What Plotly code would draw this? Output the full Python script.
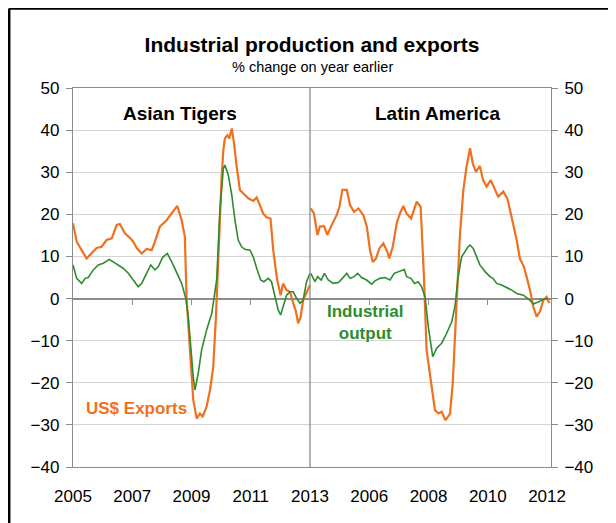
import plotly.graph_objects as go

# ---------------- data (months since start of each panel's axis; % y/y) ----------------
# Asian Tigers panel occupies months 0-96, Latin America panel months 96-~194
asia_exp_m = [0, 1.5, 3.5, 5.5, 7.6, 9.6, 11.6, 13.6, 15.7, 17.7, 19, 21, 23.1, 24.4, 25.8, 27.8, 29.8,
              31.9, 33.2, 35.2, 37.9, 40, 42.2, 44, 45.3, 46, 47.4, 48.7, 50.1, 51.4, 52.5, 54.1, 55.5,
              56.8, 57.9, 58.4, 59.2, 60.2, 60.9, 61.5, 62.5, 63.3, 64.3, 65.2, 66.3, 67.6, 68.9, 71,
              73, 74.4, 75.7, 77, 78.4, 80, 81.1, 82.7, 84.1, 85.1, 86.5, 87.9, 89.2, 90.3, 91.2, 92.2,
              93.2, 94.6, 96]
asia_exp_v = [17.9, 13.5, 11.5, 9.5, 10.8, 12, 12.3, 13.9, 14.3, 17.5, 17.7, 15.5, 14.4, 13.5, 12, 10.7, 11.8,
              11.5, 13.5, 17.1, 18.6, 20.2, 22, 18.6, 14.7, 0, -12.2, -24, -28.5, -27.3, -28, -25.7, -21.7,
              -16.2, -4.3, 3.6, 12, 28.9, 35.3, 38, 38.8, 38, 40.4, 36.9, 31.3, 25.8, 25, 23.8,
              23.2, 24, 22.2, 20.2, 19.3, 19, 11.5, 4.4, 0.8, 3.6, 2, 1.6, -1.1, -3.1, -5.9, -4.3,
              -0.4, 1.6, 3.2]

asia_ind_m = [0, 1.5, 3.5, 4.9, 6.2, 8.2, 10.2, 12.3, 14.7, 16.3, 18.3, 20.3, 22.4, 24.4, 26.4, 27.8, 29.5,
              31.5, 33.2, 34.6, 36.3, 38.2, 40, 42, 44, 45.7, 46.7, 48.7, 49.4, 50.7, 52.1, 54.1, 56.2,
              58.2, 59.5, 60.9, 61.5, 62.9, 64.3, 65.6, 66.9, 68.3, 69.6, 71.7, 73, 74.4, 76, 77.3, 79.1,
              80.4, 81.8, 83.1, 84.1, 85.1, 86.5, 87.9, 89.2, 90.6, 91.9, 93.2, 94.6, 96]
asia_ind_v = [8, 4.8, 3.6, 4.8, 5, 6.8, 8, 8.4, 9.3, 8.7, 8, 7.2, 6, 4.4, 2.8, 3.6, 5.6,
              8, 6.8, 7.6, 9.8, 10.7, 8.7, 6, 3.6, 0, -4.3, -18.6, -21.7, -17.8, -12.2, -7.5, -3.5,
              4.5, 21, 30.9, 31.7, 29.3, 24.6, 18.6, 13.9, 12.3, 11.7, 11.5, 9.9, 7.2, 4.4, 4, 4.8,
              4, 0.4, -2.7, -3.9, -1.9, 0.8, 1.6, 1.6, 0, -1.1, -0.4, 4, 6]

latam_exp_m = [96.3, 97.6, 99, 100, 101.7, 103, 104.8, 106.8, 107.9, 109.1, 110.9, 112.2, 113.8, 115.6,
               117.6, 119, 120.3, 121.4, 122.7, 124.1, 125.7, 127.3, 128.1, 129.5, 131.1, 132.4, 133.8,
               135.1, 136.9, 137.8, 139.2, 140.8, 142.2, 143.2, 145.3, 146.6, 148, 149.3, 150.9, 152.7,
               153.8, 154.7, 155.7, 156.7, 158.1, 159.4, 160.8, 161.9, 163.2, 164.8, 166.1, 167.5,
               169.2, 170.9, 172.2, 174.3, 175.9, 177, 178.3, 179.7, 181, 182.6, 183.7, 185.1, 186.4,
               187.8, 189.1, 190.5, 191.8, 192.9]
latam_exp_v = [21.4, 20.2, 15.1, 17.1, 17.2, 15.1, 17.5, 19.8, 21.8, 25.8, 25.8, 22.2, 20.6, 21.4,
               19.8, 17.1, 11.5, 8.7, 9.5, 11.9, 13.1, 11.1, 9.5, 12.3, 17.9, 20.2, 22,
               20.2, 19, 20.6, 23, 21.8, 4.4, -12.2, -21.7, -26.5, -27.3, -26.9, -28.9, -27.3,
               -20.1, -8.3, 3.6, 15, 25.8, 31.3, 35.7, 32.1, 30.1, 31.5, 28.1, 26.6,
               28.1, 25.8, 24.2, 25.4, 23.8, 21, 17.9, 13.9, 9.5, 7.6, 5.2, 2, -1.9,
               -4.3, -3.1, -0.4, 0.4, -1.1]

latam_ind_m = [96.3, 96.7, 98, 99.1, 100.5, 101.8, 103.4, 105.4, 107.5, 109.1, 110.9, 112.2, 113.9, 115.3,
               116.9, 118.9, 121, 122.3, 124.3, 126.4, 128.4, 130.1, 132.4, 134.2, 135.1, 136.9, 138.3,
               139.8, 141.2, 142.6, 143.9, 145.7, 147.3, 149.3, 151.3, 153.4, 154.7, 156, 157.4, 159.2,
               160, 160.8, 162.1, 163.5, 164.8, 166.9, 168.9, 170.1, 171.6, 173.6, 175.6, 177.7, 179.7,
               182.4, 185.1, 186.4, 188.4, 190.5, 192.5]
latam_ind_v = [6, 5.6, 4, 5.2, 4.4, 6, 4.4, 3.6, 3.8, 4.8, 6, 4.8, 5.2, 6,
               5, 4.4, 3.4, 4.2, 4.8, 5, 4.4, 6, 6.4, 6.9, 5.2, 4.8, 3.6,
               4, 2.8, 0.4, -6.7, -13.8, -11.8, -10.6, -8.3, -5.5, -1.9, 5.2, 9.9, 11.8,
               12.3, 12.7, 11.9, 9.9, 8, 6.4, 5.2, 4.8, 3.6, 3.2, 2.7, 2, 1.2,
               0.8, -0.4, -1.3, -0.8, -0.2, 0]

tick_months = [0, 24, 48, 72, 96, 120, 144, 168, 192]
tick_labels = ["2005", "2007", "2009", "2011", "2013", "2006", "2008", "2010", "2012"]
minor_tick_months = [24, 48, 72, 120, 144, 168]
divider_month = 96
x_max = 193.6

ORANGE = "#F07020"
GREEN = "#2E8B2E"
AXIS = "#8C8C8C"
GRID = "#D4D4D4"
FONT = "Liberation Sans, Arial, sans-serif"

# the page body adds an 8px offset; figure is sized to fill the remaining window
W, H = 608, 515
L, R, T, B = 65, 65, 80, 56
PW, PH = W - L - R, H - T - B


def px(fx):
    return (fx - L) / PW


def py(fy):
    return (H - B - fy) / PH


fig = go.Figure()
for m, v, col, w in [(asia_exp_m, asia_exp_v, ORANGE, 2.2), (latam_exp_m, latam_exp_v, ORANGE, 2.2),
                     (asia_ind_m, asia_ind_v, GREEN, 1.6), (latam_ind_m, latam_ind_v, GREEN, 1.6)]:
    fig.add_trace(go.Scatter(x=m, y=v, mode="lines", line=dict(color=col, width=w),
                             showlegend=False, hoverinfo="skip"))

# dummy traces so that the secondary axes render
fig.add_trace(go.Scatter(x=[None], y=[None], yaxis="y2", showlegend=False))
fig.add_trace(go.Scatter(x=[None], y=[None], xaxis="x2", showlegend=False))

fig.update_layout(
    width=W, height=H,
    margin=dict(l=L, r=R, t=T, b=B),
    paper_bgcolor="white", plot_bgcolor="white",
    font=dict(family=FONT, color="black"),
    title=dict(text="<b>Industrial production and exports</b>", x=0.5, xref="paper",
               y=1 - 37 / H, yref="container", xanchor="center", yanchor="middle",
               font=dict(size=21, family=FONT, color="black")),
    xaxis=dict(range=[0, x_max], tickvals=tick_months, ticktext=tick_labels,
               showgrid=False, zeroline=False, showline=True, linecolor=AXIS, linewidth=1.3,
               mirror=True, ticks="", tickfont=dict(size=17, family=FONT, color="black"),
               ticklabelstandoff=13),
    xaxis2=dict(range=[0, x_max], overlaying="x", anchor="free", position=40 / 90,
                tickvals=minor_tick_months, ticks="outside", ticklen=5, tickcolor=AXIS,
                tickwidth=1.2, showticklabels=False, showgrid=False, showline=False, zeroline=False),
    yaxis=dict(range=[-40, 50], dtick=10, showgrid=True, gridcolor=GRID, gridwidth=1,
               zeroline=True, zerolinecolor=AXIS, zerolinewidth=1.5,
               showline=True, linecolor=AXIS, linewidth=1.3, mirror=True,
               ticks="outside", ticklen=6, tickcolor=AXIS,
               tickfont=dict(size=17, family=FONT, color="black"), ticklabelstandoff=3),
    yaxis2=dict(range=[-40, 50], dtick=10, overlaying="y", side="right", showgrid=False,
                zeroline=False, showline=False, ticks="outside", ticklen=6, tickcolor=AXIS,
                tickfont=dict(size=17, family=FONT, color="black"), ticklabelstandoff=3),
)

fig.add_shape(type="line", xref="x", yref="paper", x0=divider_month, x1=divider_month, y0=0, y1=1,
              line=dict(color=AXIS, width=1.3))

# outer frame (top and left edges)
fig.add_shape(type="line", xref="paper", yref="paper", x0=px(1.2), x1=px(W + 5),
              y0=py(0.5), y1=py(0.5), line=dict(color="black", width=2.5))
fig.add_shape(type="line", xref="paper", yref="paper", x0=px(1.2), x1=px(1.2),
              y0=py(0.5), y1=py(H + 5), line=dict(color="black", width=2.5))

fig.add_annotation(text="% change on year earlier", xref="paper", yref="paper", x=0.5,
                   y=py(59), xanchor="center", yanchor="middle", showarrow=False,
                   font=dict(size=14.5, family=FONT, color="black"))
fig.add_annotation(text="<b>Asian Tigers</b>", x=43.3, y=44, showarrow=False,
                   xanchor="center", yanchor="middle", font=dict(size=19, family=FONT, color="black"))
fig.add_annotation(text="<b>Latin America</b>", x=147.8, y=44, showarrow=False,
                   xanchor="center", yanchor="middle", font=dict(size=19, family=FONT, color="black"))
fig.add_annotation(text="<b>US$ Exports</b>", x=25.9, y=-26, showarrow=False,
                   xanchor="center", yanchor="middle", font=dict(size=17, family=FONT, color=ORANGE))
fig.add_annotation(text="<b>Industrial<br>output</b>", x=118.3, y=-5.8, showarrow=False,
                   xanchor="center", yanchor="middle", font=dict(size=17, family=FONT, color=GREEN))

fig.write_html("out.html")
